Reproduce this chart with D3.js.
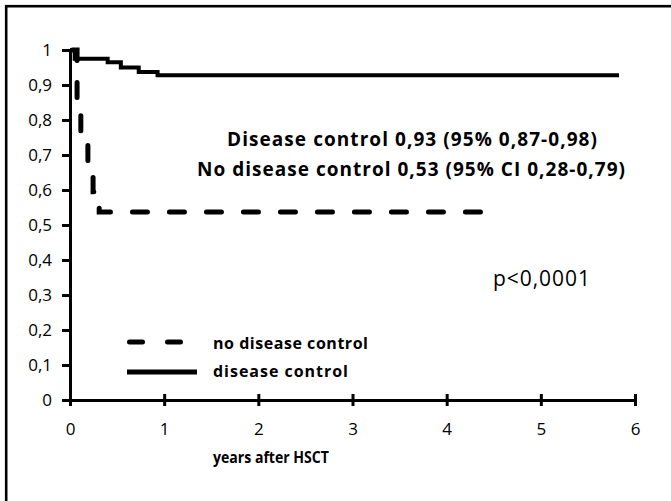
<!DOCTYPE html>
<html>
<head>
<meta charset="utf-8">
<script src="https://cdn.jsdelivr.net/npm/d3@7"></script>
<style>
  body { margin: 0; background: #fff; }
  text { font-family: "Open Sans", "Noto Sans", sans-serif; fill: #000; }
</style>
</head>
<body>
<div id="chart"></div>
<script>
// Kaplan-Meier steps
const dcTimes = [0, 0.05, 0.40, 0.54, 0.73, 0.93, 5.83]
const dcSurv = [1, 0.975, 0.965, 0.95, 0.937, 0.928, 0.928]
const ndcTimes = [0, 0.075, 0.115, 0.19, 0.245, 0.31, 4.46]
const ndcSurv = [1, 0.84, 0.76, 0.68, 0.595, 0.537, 0.537]

const xTicks = [0, 1, 2, 3, 4, 5, 6]
const yTicks = [0, 0.1, 0.2, 0.3, 0.4, 0.5, 0.6, 0.7, 0.8, 0.9, 1]
const yTickLabels = ['0', '0,1', '0,2', '0,3', '0,4', '0,5', '0,6', '0,7', '0,8', '0,9', '1']

const legendLabels = ['no disease control', 'disease control']
const statLines = ['Disease control 0,93 (95% 0,87-0,98)', 'No disease control 0,53 (95% CI 0,28-0,79)']
const pText = 'p<0,0001'
const xTitle = 'years after HSCT'

const width = 671,
  height = 501

let svg = d3.select('#chart')
  .append('svg')
  .attr('width', width)
  .attr('height', height)

// outer frame, cut at right and bottom like the picture
svg.append('rect')
  .attr('x', 6.2)
  .attr('y', 6.2)
  .attr('width', 700)
  .attr('height', 600)
  .attr('fill', 'none')
  .attr('stroke', '#000')
  .attr('stroke-width', 2.6)

let x = d3.scaleLinear().domain([0, 6]).range([70, 635])
let y = d3.scaleLinear().domain([0, 1]).range([400, 50])

// curves
let line = d3.line()
  .x(d => x(d[0]))
  .y(d => y(d[1]))
  .curve(d3.curveStepAfter)

svg.append('path')
  .datum(dcTimes.map((t, i) => [t, dcSurv[i]]))
  .attr('d', line)
  .attr('fill', 'none')
  .attr('stroke', '#000')
  .attr('stroke-width', 4)

svg.append('path')
  .datum(ndcTimes.map((t, i) => [t, ndcSurv[i]]))
  .attr('d', line)
  .attr('fill', 'none')
  .attr('stroke', '#000')
  .attr('stroke-width', 5)
  .attr('stroke-linecap', 'round')
  .attr('stroke-dasharray', '15,22')
  .attr('stroke-dashoffset', -2.5)

// axes
let yAxis = svg.append('g')
  .attr('transform', `translate(${x(0)},0)`)
  .call(d3.axisLeft(y)
    .tickValues(yTicks)
    .tickFormat((d, i) => yTickLabels[i])
    .tickSize(8)
    .tickSizeOuter(0)
    .tickPadding(10))

yAxis.selectAll('line').attr('x2', -8).attr('x1', 2)

let xAxis = svg.append('g')
  .attr('transform', `translate(0,${y(0)})`)
  .call(d3.axisBottom(x)
    .tickValues(xTicks)
    .tickFormat(d3.format('d'))
    .tickSize(6)
    .tickSizeOuter(0)
    .tickPadding(17))

xAxis.selectAll('.tick line').attr('y1', -6).attr('y2', 6)

svg.selectAll('.domain, .tick line')
  .attr('stroke', '#000')
  .attr('stroke-width', 3)

svg.selectAll('.tick text')
  .style('font-size', '17px')
  .attr('fill', '#111')

// axis title
svg.append('text')
  .attr('x', 271)
  .attr('y', 463)
  .attr('text-anchor', 'middle')
  .style('font-size', '16px')
  .style('font-weight', 'bold')
  .attr('textLength', 116)
  .attr('lengthAdjust', 'spacingAndGlyphs')
  .text(xTitle)

// stats text
const statWidths = [370, 428]
svg.selectAll('.stat')
  .data(statLines)
  .enter()
  .append('text')
  .attr('class', 'stat')
  .attr('x', (d, i) => i === 0 ? 227 : 197)
  .attr('y', (d, i) => 146 + i * 30)
  .style('font-size', '19px')
  .style('font-weight', 'bold')
  .attr('textLength', (d, i) => statWidths[i])
  .attr('lengthAdjust', 'spacing')
  .text(d => d)

svg.append('text')
  .attr('x', 493)
  .attr('y', 286)
  .style('font-size', '21px')
  .attr('textLength', 97)
  .attr('lengthAdjust', 'spacing')
  .text(pText)

// legend
svg.append('line')
  .attr('x1', 129.5).attr('x2', 183)
  .attr('y1', 342).attr('y2', 342)
  .attr('stroke', '#000')
  .attr('stroke-width', 5)
  .attr('stroke-linecap', 'round')
  .attr('stroke-dasharray', '13,25')

svg.append('line')
  .attr('x1', 127).attr('x2', 197)
  .attr('y1', 372).attr('y2', 372)
  .attr('stroke', '#000')
  .attr('stroke-width', 5)

const legendWidths = [155, 135]
svg.selectAll('.leg')
  .data(legendLabels)
  .enter()
  .append('text')
  .attr('class', 'leg')
  .attr('x', 213)
  .attr('y', (d, i) => 349 + i * 28)
  .style('font-size', '16px')
  .style('font-weight', 'bold')
  .attr('textLength', (d, i) => legendWidths[i])
  .attr('lengthAdjust', 'spacing')
  .text(d => d)
</script>
</body>
</html>
